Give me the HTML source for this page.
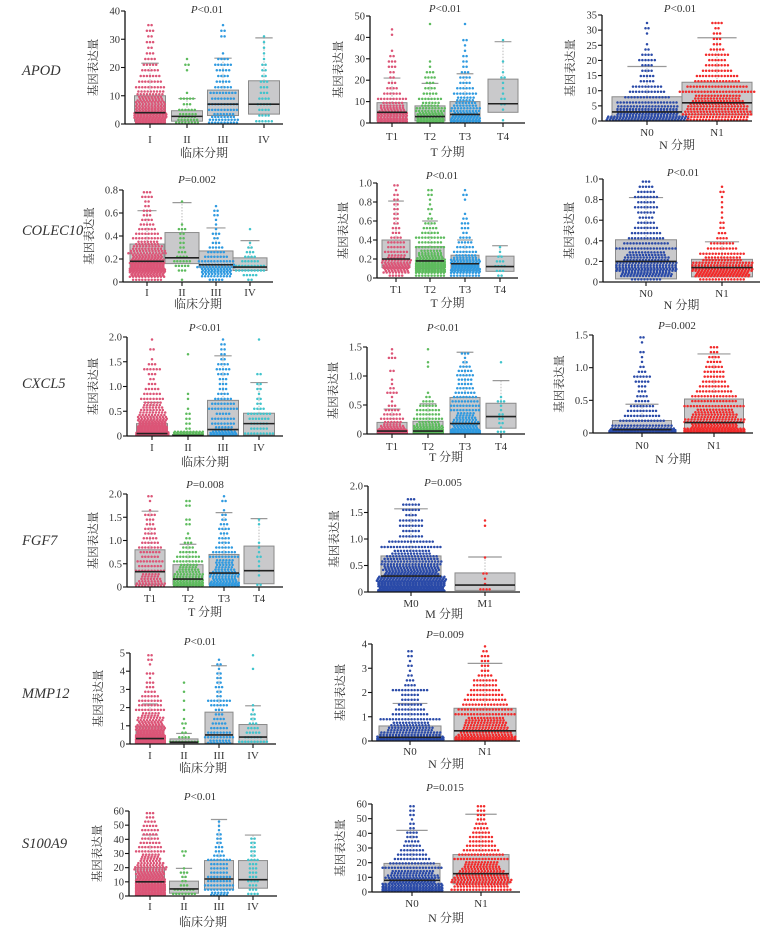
<!DOCTYPE html>
<html><head><meta charset="utf-8"><style>
body{margin:0;background:#fff;}
svg{display:block;font-family:"Liberation Serif","Noto Serif CJK SC",serif;}
</style></head><body>
<svg id="fig" width="774" height="929" viewBox="0 0 774 929" xmlns="http://www.w3.org/2000/svg"></svg>
<script>
// ---- data: ticks, categories, box stats [q1, median, q3, upper whisker], point histograms (20 equal bins from 0 to axis max)
const stageCats=["I","II","III","IV"];
const tCats=["T1","T2","T3","T4"];
const nCats=["N0","N1"];
const mCats=["M0","M1"];
const apod1Ticks=[0,10,20,30,40];
const apod1Box=[[1,4,10,21.5],[1,2.7,4.7,9],[3,7,12,23.3],[3.5,7,15.3,30.5]];
const apod1Bins=[[60,55,40,30,25,18,10,8,7,6,5,4,3,2,3,2,3,2,0,0],[15,12,6,3,5,1,0,0,0,1,2,1,0,0,0,0,0,0,0,0],[20,15,10,10,8,9,6,5,4,5,6,4,1,0,0,2,2,1,0,0],[6,4,4,5,4,3,3,3,2,2,2,1,1,1,1,1,0,0,0,0]];
const apod2Ticks=[0,10,20,30,40,50];
const apod2Box=[[1,5,9.5,21],[1,3,8,18.5],[1,4,10,23],[5,9,20.5,38]];
const apod2Bins=[[50,40,25,15,10,6,4,3,2,2,3,3,2,1,0,0,1,1,0,0],[45,35,20,12,8,5,4,3,4,3,1,1,0,0,0,0,0,0,1,0],[40,35,20,15,12,8,6,4,4,3,2,2,2,1,1,2,0,0,1,0],[1,0,1,2,2,1,1,1,2,1,0,1,0,0,0,1,0,0,0,0]];
const apod3Ticks=[0,5,10,15,20,25,30,35];
const apod3Box=[[0.3,3,8,18],[2,6,12.8,27.5]];
const apod3Bins=[[80,60,40,20,15,12,10,5,5,4,4,6,4,2,1,0,1,2,1,0],[40,45,40,35,30,25,20,15,14,10,8,6,8,5,3,3,3,2,4,0]];
const colec1Ticks=[0,0.2,0.4,0.6,0.8];
const colec1Box=[[0.1,0.18,0.33,0.62],[0.16,0.21,0.43,0.69],[0.13,0.15,0.27,0.47],[0.1,0.13,0.21,0.36]];
const colec1Bins=[[10,45,60,55,45,30,25,20,15,10,8,6,5,4,3,3,2,2,4,3],[1,0,3,5,6,4,3,2,2,2,2,3,1,0,0,0,0,1,0,0],[5,20,30,25,12,8,6,5,3,2,3,1,1,1,2,2,1,0,0,0],[2,5,10,10,6,4,3,2,1,0,0,1,0,0,0,0,0,0,0,0]];
const colec2Ticks=[0,0.2,0.4,0.6,0.8,1.0];
const colec2Box=[[0.11,0.2,0.4,0.81],[0.1,0.18,0.33,0.6],[0.08,0.15,0.24,0.4],[0.07,0.12,0.23,0.34]];
const colec2Bins=[[5,25,35,20,12,8,6,6,4,3,3,2,2,2,2,2,2,2,1,2],[10,50,60,40,25,15,10,8,10,6,5,4,2,1,2,1,1,2,2,0],[10,40,45,30,15,8,6,5,4,2,3,3,2,1,0,0,1,2,1,0],[2,3,4,3,2,1,1,0,0,0,0,0,0,0,0,0,0,0,0,0]];
const colec3Ticks=[0,0.2,0.4,0.6,0.8,1.0];
const colec3Box=[[0.03,0.2,0.41,0.82],[0.05,0.14,0.22,0.39]];
const colec3Bins=[[10,50,60,40,30,25,20,15,12,10,8,6,5,6,8,6,8,6,5,3],[15,70,60,40,25,15,10,8,4,3,2,2,1,1,1,1,1,2,1,0]];
const cxcl1Ticks=[0,0.5,1.0,1.5,2.0];
const cxcl1Box=[[0.02,0.05,0.25,0.68],[0,0.01,0.03,0.08],[0.02,0.13,0.72,1.62],[0.02,0.25,0.46,1.08]];
const cxcl1Bins=[[140,70,45,30,18,15,12,8,6,5,3,2,3,6,3,1,0,2,0,1],[40,2,2,2,2,1,0,1,1,0,0,0,0,0,0,0,1,0,0,0],[35,12,8,8,5,10,8,6,4,3,3,3,4,5,4,2,2,2,2,1],[10,6,6,7,8,4,2,2,1,2,2,0,2,0,0,0,0,0,0,1]];
const cxcl2Ticks=[0,0.5,1.0,1.5];
const cxcl2Box=[[0.02,0.05,0.2,0.43],[0.02,0.05,0.22,0.52],[0.02,0.18,0.63,1.41],[0.1,0.3,0.53,0.92]];
const cxcl2Bins=[[70,25,12,8,6,5,3,1,1,4,2,1,1,0,2,0,0,3,1,1],[60,30,15,10,8,8,6,4,2,1,0,0,0,0,0,1,1,0,0,1],[50,25,18,15,12,10,10,9,8,7,6,5,5,6,5,4,2,1,3,0],[3,1,2,2,2,1,1,3,1,0,0,0,0,0,0,0,1,0,0,0]];
const cxcl3Ticks=[0,0.5,1.0,1.5];
const cxcl3Box=[[0.02,0.05,0.19,0.44],[0.02,0.16,0.52,1.21]];
const cxcl3Bins=[[130,20,15,12,10,8,5,4,3,3,5,6,3,2,1,1,2,0,1,2],[100,45,40,30,25,20,15,15,12,10,8,7,7,6,5,4,3,3,0,0]];
const fgf1Ticks=[0,0.5,1.0,1.5,2.0];
const fgf1Box=[[0.05,0.33,0.8,1.63],[0.05,0.17,0.48,0.92],[0.05,0.3,0.7,1.6],[0.07,0.35,0.88,1.47]];
const fgf1Bins=[[20,15,12,10,8,9,6,7,8,6,5,4,4,3,3,4,1,0,1,2],[40,30,20,15,12,10,8,6,4,3,2,1,0,2,2,0,0,2,2,0],[40,25,20,15,12,12,10,8,6,4,4,3,4,3,2,2,1,0,2,1],[2,0,1,1,1,1,2,1,1,1,0,0,0,1,1,0,0,0,0,0]];
const fgf2Ticks=[0,0.5,1.0,1.5,2.0];
const fgf2Box=[[0.01,0.3,0.68,1.57],[0.03,0.13,0.36,0.66]];
const fgf2Bins=[[150,110,90,70,55,40,35,25,20,15,8,6,8,8,4,6,6,3,0,0],[4,1,1,2,0,0,1,0,0,0,0,0,1,1,0,0,0,0,0,0]];
const mmp1Ticks=[0,1,2,3,4,5];
const mmp1Box=[[0.1,0.3,0.95,2.2],[0.02,0.1,0.28,0.58],[0.05,0.5,1.75,4.3],[0.1,0.38,1.07,2.1]];
const mmp1Bins=[[90,70,45,30,25,18,12,10,8,8,6,4,3,3,1,3,0,1,2,2],[10,4,2,1,2,1,0,1,0,1,0,1,0,1,0,0,0,0,0,0],[15,10,8,6,5,4,3,3,6,8,2,2,3,2,2,2,1,2,1,0],[10,6,5,4,3,2,2,1,1,0,0,0,0,0,0,0,1,0,0,1]];
const mmp2Ticks=[0,1,2,3,4];
const mmp2Box=[[0.05,0.15,0.62,1.55],[0.05,0.42,1.35,3.2]];
const mmp2Bins=[[110,40,30,25,20,12,10,8,6,6,12,4,3,2,1,2,1,2,2,0],[80,35,30,28,25,20,18,15,14,12,10,8,8,5,3,3,3,3,2,1]];
const s1Ticks=[0,10,20,30,40,50,60];
const s1Box=[[2,10,20,43],[2,5,10.5,19.5],[5,12,25,54],[5.5,11.5,25,43]];
const s1Bins=[[50,60,50,40,35,28,22,18,14,12,10,8,7,6,5,6,5,4,3,3],[8,7,3,2,2,3,1,0,0,1,2,0,0,0,0,0,0,0,0,0],[12,10,10,8,8,6,6,6,8,4,3,3,2,2,2,1,1,1,0,0],[4,3,3,4,3,3,3,3,4,2,2,2,2,2,0,0,0,0,0,0]];
const s2Ticks=[0,10,20,30,40,50,60];
const s2Box=[[1,8,19.5,42],[5.5,12.5,25.5,53]];
const s2Bins=[[80,60,45,35,28,20,15,12,10,8,6,5,4,4,2,2,1,2,2,2],[20,35,40,35,30,25,22,18,15,12,10,8,8,6,5,4,3,3,3,3]];

// ---- layout (positions only)
const stageCol=['#dc5577','#5dbb5d','#2f9ae0','#40c4cc'];
const nCol=['#2a4aa8','#f22b2b'];
const panels=[
 {id:'apod-stage',cats:stageCats,ticks:apod1Ticks,box:apod1Box,bins:apod1Bins,col:stageCol,ax:125,x1:283,yT:11,y0:124,cx:[150,187,223,264],bw:31,p:['<','0.01'],px:207,py:9,catY:139,xl:'临床分期',xlY:153},
 {id:'apod-t',cats:tCats,ticks:apod2Ticks,box:apod2Box,bins:apod2Bins,col:stageCol,ax:370,x1:525,yT:16,y0:123,cx:[392,430,465,503],bw:30,p:['<','0.01'],px:445,py:8,catY:136,xl:'T 分期',xlY:152},
 {id:'apod-n',cats:nCats,ticks:apod3Ticks,box:apod3Box,bins:apod3Bins,col:nCol,ax:602,x1:752,yT:15,y0:121,cx:[647,717],bw:70,p:['<','0.01'],px:680,py:8,catY:132,xl:'N 分期',xlY:145},
 {id:'colec10-stage',cats:stageCats,ticks:colec1Ticks,box:colec1Box,bins:colec1Bins,col:stageCol,ax:123,x1:273,yT:190,y0:282,cx:[147,182,216,250],bw:34,p:['=','0.002'],px:197,py:179,catY:292,xl:'临床分期',xlY:304},
 {id:'colec10-t',cats:tCats,ticks:colec2Ticks,box:colec2Box,bins:colec2Bins,col:stageCol,ax:377,x1:518,yT:183,y0:278,cx:[396,430,465,500],bw:28,p:['<','0.01'],px:442,py:175,catY:289,xl:'T 分期',xlY:303},
 {id:'colec10-n',cats:nCats,ticks:colec3Ticks,box:colec3Box,bins:colec3Bins,col:nCol,ax:603,x1:760,yT:179,y0:282,cx:[646,722],bw:61,p:['<','0.01'],px:683,py:172,catY:293,xl:'N 分期',xlY:305},
 {id:'cxcl5-stage',cats:stageCats,ticks:cxcl1Ticks,box:cxcl1Box,bins:cxcl1Bins,col:stageCol,ax:127,x1:283,yT:337,y0:436,cx:[152,188,223,259],bw:31,p:['<','0.01'],px:205,py:327,catY:447,xl:'临床分期',xlY:462},
 {id:'cxcl5-t',cats:tCats,ticks:cxcl2Ticks,box:cxcl2Box,bins:cxcl2Bins,col:stageCol,ax:367,x1:525,yT:347,y0:434,cx:[392,428,465,501],bw:30,p:['<','0.01'],px:443,py:327,catY:446,xl:'T 分期',xlY:457},
 {id:'cxcl5-n',cats:nCats,ticks:cxcl3Ticks,box:cxcl3Box,bins:cxcl3Bins,col:nCol,ax:593,x1:753,yT:335,y0:433,cx:[642,714],bw:59,p:['=','0.002'],px:677,py:325,catY:445,xl:'N 分期',xlY:459},
 {id:'fgf7-t',cats:tCats,ticks:fgf1Ticks,box:fgf1Box,bins:fgf1Bins,col:stageCol,ax:127,x1:283,yT:494,y0:587,cx:[150,188,224,259],bw:30,p:['=','0.008'],px:205,py:484,catY:598,xl:'T 分期',xlY:612},
 {id:'fgf7-m',cats:mCats,ticks:fgf2Ticks,box:fgf2Box,bins:fgf2Bins,col:nCol,ax:368,x1:520,yT:486,y0:592,cx:[411,485],bw:60,p:['=','0.005'],px:443,py:482,catY:603,xl:'M 分期',xlY:614},
 {id:'mmp12-stage',cats:stageCats,ticks:mmp1Ticks,box:mmp1Box,bins:mmp1Bins,col:stageCol,ax:130,x1:276,yT:653,y0:744,cx:[150,184,219,253],bw:28,p:['<','0.01'],px:200,py:641,catY:755,xl:'临床分期',xlY:768},
 {id:'mmp12-n',cats:nCats,ticks:mmp2Ticks,box:mmp2Box,bins:mmp2Bins,col:nCol,ax:372,x1:520,yT:644,y0:741,cx:[410,485],bw:62,p:['=','0.009'],px:445,py:634,catY:751,xl:'N 分期',xlY:764},
 {id:'s100a9-stage',cats:stageCats,ticks:s1Ticks,box:s1Box,bins:s1Bins,col:stageCol,ax:129,x1:277,yT:811,y0:896,cx:[150,184,219,253],bw:29,p:['<','0.01'],px:200,py:796,catY:906,xl:'临床分期',xlY:922},
 {id:'s100a9-n',cats:nCats,ticks:s2Ticks,box:s2Box,bins:s2Bins,col:nCol,ax:372,x1:520,yT:804,y0:892,cx:[412,481],bw:56,p:['=','0.015'],px:445,py:787,catY:903,xl:'N 分期',xlY:918}
];
const genes=[['APOD',70],['COLEC10',230],['CXCL5',383],['FGF7',540],['MMP12',693],['S100A9',843]];

const NS='http://www.w3.org/2000/svg';
const svg=document.getElementById('fig');
function mk(tag,attrs,parent){const e=document.createElementNS(NS,tag);for(const k in attrs)e.setAttribute(k,attrs[k]);(parent||svg).appendChild(e);return e;}
function fmt(v,t){const dec=t.some(x=>x%1!==0);return v===0?'0':(dec?v.toFixed(1):String(v));}

genes.forEach(g=>{
  const t=mk('text',{x:22,y:g[1]+5,'font-size':14.5,'font-style':'italic',fill:'#333'});
  
  
  t.textContent=g[0];
});

panels.forEach(P=>{
  const grp=mk('g',{});
  
  
  const vmax=P.ticks[P.ticks.length-1];
  const ys=v=>P.y0-(v/vmax)*(P.y0-P.yT);
  P.box.forEach((b,i)=>{
    const cx=P.cx[i],w=P.bw;
    const bx=mk('rect',{x:cx-w/2,y:ys(b[2]),width:w,height:ys(b[0])-ys(b[2]),fill:'#c9c9cb',stroke:'#8a8a8a','stroke-width':1},grp);
    
    
    const wl=mk('line',{x1:cx,x2:cx,y1:ys(b[2]),y2:ys(b[3]),stroke:'#aaa','stroke-width':0.8,'stroke-dasharray':'1.5,1.5'},grp);
    
    
    const cap=mk('line',{x1:cx-w*0.28,x2:cx+w*0.28,y1:ys(b[3]),y2:ys(b[3]),stroke:'#999','stroke-width':1.2},grp);
    
    
  });
  P.bins.forEach((bins,i)=>{
    const cx=P.cx[i],col=P.col[i];
    const sp=3.1,cap=Math.max(2,Math.floor(P.bw*1.2/sp));
    const bh=(P.y0-P.yT)/bins.length;
    bins.forEach((c,k)=>{
      if(!c)return;
      const rows=Math.ceil(c/cap);
      let left=c;
      for(let r=0;r<rows;r++){
        const n=Math.min(cap,Math.ceil(left/(rows-r)));left-=n;
        const y=P.y0-(k+(r+0.5)/rows)*bh;
        for(let j=0;j<n;j++){
          const x=cx+(j-(n-1)/2)*sp+((r%2)?0.8:0);
          const d=mk('circle',{cx:x.toFixed(1),cy:Math.min(P.y0-1,y).toFixed(1),r:1.25,fill:col},grp);
          
          
        }
      }
    });
  });
  P.box.forEach((b,i)=>{
    const m=mk('line',{x1:P.cx[i]-P.bw/2,x2:P.cx[i]+P.bw/2,y1:ys(b[1]),y2:ys(b[1]),stroke:'#222','stroke-width':1.6},grp);
    
    
  });
  const ya=mk('line',{x1:P.ax,x2:P.ax,y1:P.yT,y2:P.y0,stroke:'#111','stroke-width':1.3},grp);
  
  
  const xa=mk('line',{x1:P.ax,x2:P.x1,y1:P.y0,y2:P.y0,stroke:'#111','stroke-width':1.3},grp);
  
  
  P.ticks.forEach(v=>{
    const y=ys(v);
    mk('line',{x1:P.ax-4,x2:P.ax,y1:y,y2:y,stroke:'#111','stroke-width':1.1},grp);
    const t=mk('text',{x:P.ax-5,y:y+3.5,'font-size':10.5,'text-anchor':'end',fill:'#333'},grp);
    
    
    t.textContent=fmt(v,P.ticks);
  });
  P.cats.forEach((c,i)=>{
    mk('line',{x1:P.cx[i],x2:P.cx[i],y1:P.y0,y2:P.y0+4,stroke:'#111','stroke-width':1.1},grp);
    const t=mk('text',{x:P.cx[i],y:P.catY+4,'font-size':11,'text-anchor':'middle',fill:'#333'},grp);
    
    
    t.textContent=c;
  });
  const xl=mk('text',{x:(P.ax+P.x1)/2,y:P.xlY+4,'font-size':12,'text-anchor':'middle',fill:'#333'},grp);
  
  
  xl.textContent=P.xl;
  const dec=P.ticks.some(x=>x%1!==0);
  const cyl=(P.yT+P.y0)/2, xyl=P.ax-(dec?30:28);
  const yl=mk('text',{x:xyl,y:cyl,'font-size':11.5,'text-anchor':'middle',fill:'#333',transform:`rotate(-90 ${xyl} ${cyl})`},grp);
  
  
  yl.textContent='基因表达量';
  const pt=mk('text',{x:P.px,y:P.py+4,'font-size':11,'text-anchor':'middle',fill:'#333'},grp);
  
  
  const it=mk('tspan',{'font-style':'italic'},pt);it.textContent='P';
  const rest=mk('tspan',{},pt);rest.textContent=P.p[0]+P.p[1];
});
</script>
</body></html>
